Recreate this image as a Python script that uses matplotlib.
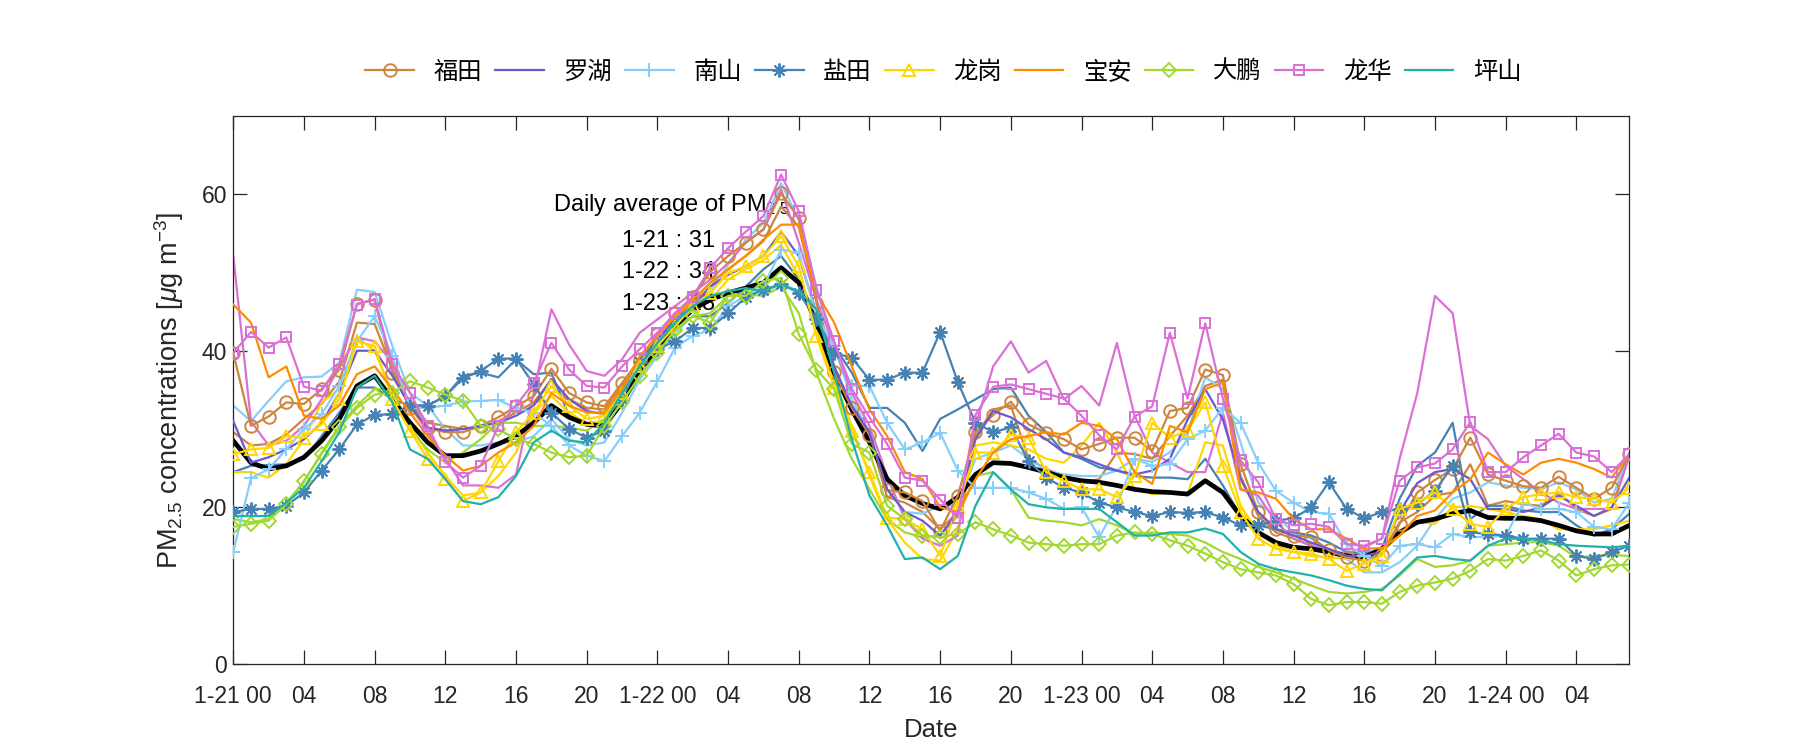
import matplotlib
matplotlib.use("Agg")
import matplotlib.pyplot as plt
import numpy as np

# ---------------- data (hourly, 1-21 00 .. 1-24 07) ----------------
hours = list(range(80))

futian = [39.7, 30.4, 31.6, 33.4, 33.2, 35.1, 37.6, 46.0, 46.5, 37.2, 32.7, 30.1, 29.6, 29.6,
          30.4, 31.5, 32.9, 34.2, 37.7, 34.6, 33.4, 32.9, 35.9, 38.9, 42.1, 44.8, 46.8,
          50.1, 52.1, 53.8, 55.5, 60.1, 56.9, 46.1, 37.3, 32.7, 29.3, 22.2, 21.9, 20.8,
          17.0, 21.5, 29.6, 31.8, 33.5, 30.6, 29.5, 28.7, 27.4, 28.1, 28.9, 28.9, 27.2,
          32.3, 32.7, 37.6, 36.9, 25.5, 19.4, 17.2, 16.4, 16.2, 14.5, 13.6, 13.2, 13.9,
          17.9, 21.9, 23.5, 24.9, 28.9, 24.2, 23.4, 22.7, 22.5, 23.9, 22.5, 21.1, 22.5, 26.8]
luohu = [31.0, 25.7, 26.4, 27.4, 28.7, 30.8, 34.6, 40.0, 40.0, 36.8, 33.0, 30.2, 29.8, 30.0,
         30.4, 30.8, 31.7, 33.0, 36.4, 33.8, 32.3, 31.9, 34.6, 38.0, 41.4, 44.0, 45.5,
         48.2, 49.7, 50.8, 52.1, 55.2, 52.1, 44.8, 38.0, 33.0, 29.6, 22.3, 19.4, 18.3,
         16.4, 19.4, 28.7, 32.3, 31.5, 30.0, 28.7, 27.0, 26.4, 25.5, 24.7, 24.2, 24.7,
         26.2, 31.2, 35.1, 31.2, 23.6, 19.4, 17.2, 16.4, 15.5, 14.7, 13.8, 13.8, 14.3,
         19.4, 23.1, 24.5, 24.9, 23.6, 19.8, 19.8, 19.4, 20.0, 21.5, 20.2, 18.9, 20.0, 23.8]
nanshan = [14.3, 23.7, 24.9, 27.4, 30.0, 31.9, 35.5, 41.2, 44.4, 39.3, 32.7, 32.7, 33.0, 33.5,
           33.6, 33.7, 32.7, 32.1, 30.4, 27.9, 26.6, 25.9, 29.1, 32.1, 36.1, 40.4, 41.9,
           42.7, 45.7, 47.0, 48.2, 52.9, 52.5, 44.4, 40.6, 35.5, 35.5, 30.8, 27.4, 28.3,
           29.5, 24.7, 22.5, 22.5, 22.5, 21.9, 21.1, 19.8, 20.0, 16.2, 20.2, 26.2, 25.3,
           25.5, 28.7, 29.8, 32.7, 30.8, 25.7, 22.1, 20.6, 19.4, 19.2, 15.3, 13.8, 12.5,
           15.1, 15.3, 14.9, 16.6, 16.2, 16.2, 16.4, 20.6, 19.8, 19.8, 19.4, 17.5, 17.2, 20.6]
yantian = [19.4, 19.8, 19.8, 20.2, 21.9, 24.7, 27.4, 30.6, 31.8, 31.9, 33.0, 33.0, 34.2, 36.5,
           37.4, 39.0, 39.0, 35.7, 32.1, 30.0, 28.9, 29.8, 33.8, 38.5, 40.2, 41.2, 42.9,
           42.9, 44.8, 46.8, 47.8, 48.5, 47.4, 44.0, 39.7, 39.1, 36.3, 36.3, 37.2, 37.2,
           42.4, 36.0, 30.8, 29.6, 30.2, 25.9, 23.8, 22.5, 21.9, 20.6, 20.0, 19.4, 18.9,
           19.4, 19.3, 19.4, 18.7, 17.7, 17.7, 18.3, 18.6, 20.0, 23.2, 19.8, 18.6, 19.4,
           19.8, 20.4, 22.1, 25.3, 16.8, 16.6, 16.4, 16.0, 16.0, 16.0, 13.8, 13.4, 14.3, 15.1]
longgang = [26.8, 27.4, 27.6, 29.1, 28.9, 30.6, 33.8, 41.2, 40.6, 33.8, 29.8, 26.2, 23.6, 20.8,
            21.9, 25.9, 29.6, 32.1, 35.5, 33.0, 31.3, 31.7, 34.6, 38.0, 40.6, 43.1, 45.7,
            47.4, 49.9, 50.8, 52.1, 54.6, 50.8, 41.9, 35.3, 29.8, 24.5, 18.7, 18.5, 17.2,
            13.8, 20.2, 27.0, 27.0, 29.3, 28.9, 24.5, 23.4, 22.3, 22.3, 21.3, 24.0, 30.8,
            28.9, 29.8, 33.4, 25.3, 19.4, 16.0, 14.7, 14.3, 14.1, 13.4, 11.9, 12.8, 13.8,
            19.8, 20.6, 21.9, 19.8, 17.9, 17.5, 19.8, 21.3, 21.7, 21.9, 21.3, 21.1, 20.6, 22.5]
baoan = [45.9, 43.6, 36.6, 38.0, 31.7, 31.3, 33.0, 37.0, 38.0, 35.1, 32.1, 29.1, 26.6, 24.7,
         25.3, 27.0, 28.3, 30.4, 34.6, 33.0, 32.1, 32.1, 35.1, 39.3, 41.9, 44.4, 46.5,
         48.7, 50.4, 52.1, 54.2, 56.1, 56.1, 47.4, 43.6, 38.0, 32.5, 29.1, 24.5, 23.6,
         20.0, 19.4, 23.6, 27.0, 28.7, 29.1, 29.6, 29.3, 30.8, 30.4, 28.7, 24.5, 23.0,
         30.4, 29.6, 35.1, 35.9, 22.3, 21.9, 21.1, 18.5, 17.2, 17.2, 16.0, 14.7, 14.8,
         16.4, 18.9, 19.6, 21.9, 23.6, 27.0, 25.5, 24.2, 25.7, 26.2, 25.7, 24.9, 23.8, 26.8]
dapeng = [17.5, 17.9, 18.3, 20.4, 23.4, 26.8, 30.2, 32.7, 34.4, 34.6, 36.1, 35.3, 34.4, 33.6,
          30.4, 30.0, 28.7, 28.1, 27.0, 26.4, 26.6, 30.4, 33.4, 36.8, 39.7, 42.7, 44.4,
          43.6, 47.0, 47.0, 48.9, 49.3, 42.1, 37.6, 35.1, 28.1, 27.0, 20.2, 18.5, 16.4,
          16.2, 16.6, 18.1, 17.2, 16.4, 15.5, 15.3, 15.1, 15.3, 15.3, 16.4, 16.8, 16.6,
          15.8, 15.1, 14.1, 13.0, 12.1, 11.7, 11.3, 10.2, 8.3, 7.5, 7.9, 7.9, 7.7,
          9.2, 10.0, 10.4, 10.9, 11.9, 13.4, 13.2, 13.8, 14.5, 13.2, 11.3, 12.1, 12.6, 12.7]
longhua = [39.7, 42.4, 40.4, 41.7, 35.4, 34.9, 38.3, 45.9, 46.6, 38.3, 34.6, 30.4, 25.8, 23.8,
           25.3, 30.4, 33.0, 35.9, 41.0, 37.6, 35.5, 35.3, 38.0, 40.2, 42.3, 44.8, 46.9,
           50.6, 53.1, 55.2, 57.2, 62.5, 57.8, 47.8, 41.2, 35.1, 31.5, 28.1, 23.8, 23.4,
           21.0, 18.7, 31.8, 35.4, 35.7, 35.1, 34.5, 33.9, 31.7, 29.2, 27.4, 31.6, 32.9,
           42.3, 33.9, 43.5, 33.9, 26.0, 23.2, 18.5, 17.7, 17.9, 17.5, 15.3, 15.1, 16.0,
           23.4, 25.1, 25.6, 27.4, 30.9, 24.5, 24.5, 26.4, 27.9, 29.4, 27.0, 26.5, 24.5, 26.8]
pingshan = [18.9, 18.9, 18.9, 20.6, 22.5, 25.9, 29.6, 35.3, 36.8, 33.4, 27.4, 26.2, 23.6, 20.8,
            20.4, 21.3, 24.0, 28.3, 29.8, 28.5, 28.3, 30.8, 34.6, 38.0, 41.0, 43.6, 45.7,
            47.0, 47.6, 48.0, 47.6, 48.5, 47.6, 45.3, 37.2, 28.7, 21.5, 17.7, 13.4, 13.6,
            12.1, 13.8, 20.2, 24.5, 22.3, 20.4, 20.0, 19.8, 19.8, 19.8, 18.1, 16.4, 16.4,
            16.8, 16.8, 17.3, 16.6, 14.3, 12.8, 12.1, 11.7, 11.3, 10.7, 10.0, 9.6, 9.4,
            11.5, 13.6, 13.8, 13.4, 13.2, 15.1, 16.0, 16.0, 15.8, 15.3, 15.1, 15.0, 14.9, 15.1]

# second station of several districts (drawn without markers, not in legend)
futian_b = [29.6, 27.9, 28.1, 29.3, 31.3, 33.2, 36.1, 43.6, 43.4, 37.6, 33.4, 30.8, 30.4, 30.0,
            30.2, 31.0, 32.1, 33.4, 36.3, 33.8, 32.7, 32.5, 35.5, 38.9, 41.4, 44.0, 46.1,
            48.2, 50.4, 52.1, 54.0, 58.4, 55.8, 46.5, 38.0, 32.1, 29.1, 21.3, 20.6, 19.4,
            17.2, 19.4, 29.1, 32.5, 33.0, 26.2, 24.9, 24.0, 23.2, 23.6, 27.0, 26.8, 26.2,
            29.1, 31.7, 35.5, 36.3, 24.0, 18.9, 16.8, 16.0, 15.1, 14.5, 13.8, 13.8, 14.0,
            18.1, 19.4, 21.5, 21.9, 25.5, 20.2, 20.8, 20.4, 20.2, 21.9, 19.8, 18.9, 19.8, 26.6]
nanshan_b = [33.0, 31.0, 33.6, 36.1, 36.6, 36.7, 38.5, 47.8, 47.5, 40.6, 34.6, 33.0, 30.0, 27.9,
             27.9, 28.3, 28.3, 29.1, 31.3, 28.7, 27.9, 28.3, 32.1, 36.3, 39.3, 42.3, 44.4,
             47.5, 51.0, 54.2, 56.3, 61.4, 56.7, 48.2, 40.6, 33.8, 29.6, 22.3, 19.4, 19.2,
             20.2, 20.2, 26.2, 27.0, 27.9, 26.2, 24.7, 24.2, 24.0, 24.0, 24.7, 26.2, 25.8,
             27.0, 29.6, 36.6, 35.1, 28.3, 20.6, 18.9, 16.8, 16.0, 14.3, 13.4, 11.7, 11.7,
             13.0, 15.1, 18.5, 21.1, 21.9, 23.2, 22.8, 22.5, 22.3, 23.2, 22.3, 20.6, 21.1, 27.0]
yantian_b = [24.5, 25.3, 25.4, 25.5, 26.2, 29.1, 32.1, 35.3, 35.3, 33.8, 33.0, 33.0, 34.2, 36.8,
             37.2, 36.6, 38.9, 37.0, 37.2, 31.7, 30.8, 30.8, 35.1, 38.9, 41.4, 42.7, 44.4,
             44.4, 46.1, 48.2, 50.4, 52.1, 49.1, 44.4, 40.6, 37.2, 32.7, 32.7, 30.8, 27.2,
             31.3, 32.5, 33.8, 35.1, 35.3, 31.7, 29.6, 27.0, 26.2, 25.1, 24.7, 24.0, 23.8,
             23.8, 23.6, 26.2, 22.8, 18.9, 17.7, 17.2, 16.8, 16.4, 15.5, 14.3, 14.1, 14.7,
             21.1, 25.3, 27.0, 30.8, 18.5, 20.2, 20.2, 19.6, 19.4, 19.4, 17.7, 16.4, 17.2, 19.2]
longgang_b = [24.5, 24.5, 23.8, 25.5, 28.7, 33.4, 35.1, 41.7, 40.0, 34.6, 30.4, 27.0, 24.0, 21.5,
              21.9, 24.0, 27.0, 32.1, 34.2, 32.1, 30.8, 30.8, 34.2, 37.6, 40.2, 42.7, 45.3,
              46.5, 49.1, 50.4, 51.6, 53.5, 49.5, 42.3, 36.3, 30.4, 24.0, 18.5, 15.5, 13.4,
              13.2, 17.2, 27.9, 28.3, 27.9, 27.4, 26.2, 25.7, 27.9, 30.8, 27.0, 22.3, 21.7,
              21.9, 21.7, 28.3, 27.9, 20.2, 16.8, 15.1, 14.3, 13.8, 13.6, 13.4, 13.4, 14.3,
              16.4, 18.1, 17.9, 20.0, 20.2, 19.8, 19.4, 18.9, 18.5, 17.2, 17.2, 17.2, 17.7, 18.3]
dapeng_b = [18.5, 18.1, 18.5, 20.6, 23.2, 27.0, 30.4, 33.0, 35.1, 35.1, 30.0, 27.4, 25.7, 27.0,
            28.7, 30.8, 30.8, 30.4, 30.4, 30.2, 29.8, 31.3, 34.6, 37.6, 40.2, 42.7, 44.4,
            44.8, 47.0, 47.2, 47.0, 48.2, 44.8, 37.2, 31.3, 26.2, 22.3, 18.5, 16.8, 16.2,
            16.4, 18.9, 24.0, 24.5, 22.3, 18.7, 18.3, 18.1, 17.7, 18.5, 17.7, 16.6, 16.8,
            16.6, 16.4, 15.5, 14.3, 13.4, 12.4, 11.7, 10.9, 10.0, 9.2, 9.0, 9.2, 9.6,
            11.3, 13.4, 12.4, 12.6, 13.2, 15.1, 15.3, 15.5, 15.6, 15.1, 13.6, 13.8, 13.9, 13.8]
longhua_b = [52.1, 31.0, 27.9, 28.5, 30.4, 33.8, 38.0, 41.7, 41.2, 38.5, 33.0, 29.6, 26.2, 22.8,
             22.8, 22.5, 24.2, 34.6, 45.3, 40.8, 37.4, 36.8, 38.9, 42.3, 44.0, 45.7, 47.4,
             49.1, 51.2, 53.8, 55.5, 60.6, 53.8, 46.5, 40.6, 34.6, 30.4, 24.0, 18.5, 16.0,
             15.1, 16.4, 30.4, 38.0, 41.2, 37.2, 38.7, 33.8, 35.5, 33.0, 41.0, 31.7, 27.0,
             25.7, 24.5, 24.5, 32.1, 22.3, 21.5, 18.1, 16.0, 15.1, 14.5, 14.1, 14.9, 16.0,
             26.2, 34.6, 47.0, 44.8, 30.4, 28.7, 25.3, 23.6, 21.9, 20.6, 19.8, 19.8, 19.8, 26.6]

average = [28.5, 25.7, 24.9, 25.3, 26.4, 28.5, 31.3, 35.5, 36.8, 33.8, 30.8, 28.3, 26.6, 26.6,
           27.2, 28.1, 29.1, 30.8, 33.0, 31.5, 30.6, 30.4, 33.4, 37.2, 40.2, 43.1, 45.3,
           46.5, 47.4, 48.0, 48.7, 50.6, 48.7, 43.6, 37.2, 32.5, 28.3, 23.6, 21.5, 20.5,
           19.8, 21.3, 24.2, 25.7, 25.6, 25.1, 24.5, 23.8, 23.4, 23.2, 22.8, 22.3, 22.0,
           21.9, 21.7, 23.4, 21.9, 18.9, 16.8, 15.5, 14.9, 14.7, 14.3, 13.8, 13.6, 14.7,
           16.8, 18.1, 18.5, 19.2, 19.6, 18.7, 18.6, 18.6, 18.3, 17.7, 17.0, 16.6, 16.6, 17.7]

district_names = ["福田", "罗湖", "南山", "盐田", "龙岗", "宝安", "大鹏", "龙华", "坪山"]
tick_hours = list(range(0, 80, 4))
tick_labels = ["1-21 00", "04", "08", "12", "16", "20",
               "1-22 00", "04", "08", "12", "16", "20",
               "1-23 00", "04", "08", "12", "16", "20",
               "1-24 00", "04"]
daily_avg_lines = ["1-21 : 31", "1-22 : 34", "1-23 : 18"]

# ---------------- styling ----------------
plt.rcParams['font.family'] = ['Liberation Sans', 'Noto Sans CJK SC', 'DejaVu Sans']
plt.rcParams['mathtext.fontset'] = 'custom'
plt.rcParams['mathtext.rm'] = 'Liberation Sans'
plt.rcParams['mathtext.it'] = 'Liberation Sans:italic'

col = {
    "福田": "#CD853F", "罗湖": "#6A5ACD", "南山": "#87CEFA", "盐田": "#4682B4",
    "龙岗": "#FFD700", "宝安": "#FF8C00", "大鹏": "#A2D831", "龙华": "#DA70D6",
    "坪山": "#20B2AA",
}
asterisk = (8, 2, 0)
ink = "#262626"

fig = plt.figure(figsize=(18, 7.5), dpi=100)
ax = fig.add_axes([0.1296, 0.1147, 0.7756, 0.7309])

lw = 1.6
# secondary stations (no markers)
for vals, name in [(futian_b, "福田"), (nanshan_b, "南山"), (yantian_b, "盐田"),
                   (longgang_b, "龙岗"), (dapeng_b, "大鹏"), (longhua_b, "龙华")]:
    ax.plot(hours, vals, color=col[name], lw=lw, zorder=2)

ax.plot(hours, average, color="black", lw=3.4, zorder=2.5)

series = [
    (futian, "福田", dict(marker="o", ms=9)),
    (luohu, "罗湖", dict()),
    (nanshan, "南山", dict(marker="+", ms=10, mew=1.4)),
    (yantian, "盐田", dict(marker=asterisk, ms=10, mew=1.4)),
    (longgang, "龙岗", dict(marker="^", ms=9)),
    (baoan, "宝安", dict()),
    (dapeng, "大鹏", dict(marker="D", ms=7.5)),
    (longhua, "龙华", dict(marker="s", ms=6.5)),
    (pingshan, "坪山", dict()),
]
for vals, name, mk in series:
    kw = dict(color=col[name], lw=lw, label=name, zorder=3)
    if "marker" in mk:
        kw.update(mk)
        kw.setdefault("mew", 1.4)
        kw["mfc"] = "none"
    ax.plot(hours, vals, **kw)

# annotation (drawn under the lines)
ax.text(18.1, 58.6, "Daily average of PM$_{2.5}$", fontsize=17, va="center",
        ha="left", zorder=1)
for i, s in enumerate(daily_avg_lines):
    ax.text(22.0, 54.0 - 4.0 * i, s, fontsize=17, va="center", ha="left", zorder=1)

ax.set_xlim(0, 79)
ax.set_ylim(0, 70)
ax.set_yticks([0, 20, 40, 60])
ax.set_xticks(tick_hours)
ax.set_xticklabels(tick_labels)
ax.tick_params(direction="in", length=10, width=0.9, top=True, right=True,
               labelsize=16.5, colors=ink)
ax.tick_params(axis="x", pad=15)
ax.tick_params(axis="y", pad=4.5)
for sp in ax.spines.values():
    sp.set_linewidth(0.9)
    sp.set_color(ink)

ax.set_xlabel("Date", fontsize=18.5, color=ink)
ax.xaxis.set_label_coords(0.5, -0.098)
ax.set_ylabel("PM$_{2.5}$ concentrations [$\\mathit{\\mu}$g m$^{-3}$]", fontsize=19.5,
              color=ink)
ax.yaxis.set_label_coords(-0.034, 0.5)

leg = fig.legend(loc="center", bbox_to_anchor=(0.524, 0.904), ncol=9, frameon=False,
                 prop={"family": ["Noto Sans CJK SC"], "size": 17.5},
                 handlelength=2.0, columnspacing=0.55, handletextpad=0.8)

fig.savefig("out.png", dpi=100)
